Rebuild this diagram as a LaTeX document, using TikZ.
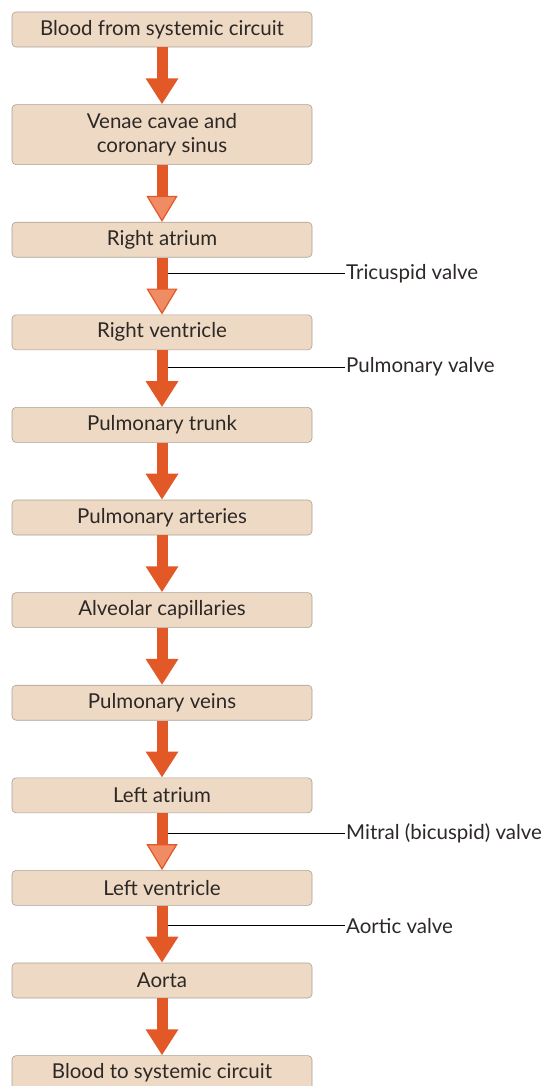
\documentclass[tikz,border=0pt]{standalone}
\usepackage{fontspec}
\setmainfont{Lato}
\usepackage{tikz}
\usetikzlibrary{positioning,arrows.meta,calc}
\definecolor{boxtan}{RGB}{238,218,196}
\definecolor{boxedge}{RGB}{170,160,150}
\definecolor{flowred}{RGB}{226,88,38}
\definecolor{flowlight}{RGB}{240,140,100}
\definecolor{inkgrey}{RGB}{45,40,38}
\tikzset{
  stagebox/.style={draw=boxedge, line width=0.6pt, rounded corners=4pt, fill=boxtan, text=inkgrey, minimum width=300pt, minimum height=35pt, align=center, inner sep=2pt, font=\fontsize{20.5}{24}\selectfont},
  flowarrow/.style={draw=flowred, line width=11pt, -{Triangle[width=31pt,length=26pt]}},
  valvearrow/.style={draw=flowred, line width=11pt, -{Triangle[width=31pt,length=26pt,line width=1.2pt,fill=flowlight]}},
  valveline/.style={draw=black, line width=0.8pt},
  valvelabel/.style={anchor=west, inner sep=1pt, text=inkgrey, font=\fontsize{20.5}{24}\selectfont}
}
\begin{document}
\begin{tikzpicture}[x=1pt, y=-1pt, node distance=57pt]
  \useasboundingbox (0,0) rectangle (550,1086);
  % stages of the circuit
  \node[stagebox] (sysin) at (162,29.5) {Blood from systemic circuit};
  \node[stagebox, minimum height=60pt, below=of sysin] (venae) {Venae cavae and\\coronary sinus};
  \node[stagebox, below=of venae] (ratrium) {Right atrium};
  \node[stagebox, below=of ratrium] (rvent) {Right ventricle};
  \node[stagebox, below=of rvent] (ptrunk) {Pulmonary trunk};
  \node[stagebox, below=of ptrunk] (parteries) {Pulmonary arteries};
  \node[stagebox, below=of parteries] (alveolar) {Alveolar capillaries};
  \node[stagebox, below=of alveolar] (pveins) {Pulmonary veins};
  \node[stagebox, below=of pveins] (latrium) {Left atrium};
  \node[stagebox, below=of latrium] (lvent) {Left ventricle};
  \node[stagebox, below=of lvent] (aorta) {Aorta};
  \node[stagebox, below=of aorta] (sysout) {Blood to systemic circuit};
  % flow
  \draw[flowarrow] (sysin) -- (venae);
  \draw[valvearrow] (venae) -- (ratrium);
  \draw[valvearrow] (ratrium) -- (rvent);
  \draw[flowarrow] (rvent) -- (ptrunk);
  \draw[flowarrow] (ptrunk) -- (parteries);
  \draw[flowarrow] (parteries) -- (alveolar);
  \draw[flowarrow] (alveolar) -- (pveins);
  \draw[flowarrow] (pveins) -- (latrium);
  \draw[valvearrow] (latrium) -- (lvent);
  \draw[flowarrow] (lvent) -- (aorta);
  \draw[flowarrow] (aorta) -- (sysout);
  % valves
  \coordinate (tricusp) at ([xshift=6pt,yshift=-16pt]ratrium.south);
  \coordinate (pulmo) at ([xshift=6pt,yshift=-17pt]rvent.south);
  \coordinate (mitral) at ([xshift=6pt,yshift=-20pt]latrium.south);
  \coordinate (aortic) at ([xshift=6pt,yshift=-20pt]lvent.south);
  \node[valvelabel] (tricusplab) at (tricusp -| 345,0) {Tricuspid valve};
  \node[valvelabel] (pulmolab) at (pulmo -| 345,0) {Pulmonary valve};
  \node[valvelabel] (mitrallab) at (mitral -| 345,0) {Mitral (bicuspid) valve};
  \node[valvelabel] (aorticlab) at (aortic -| 345,0) {Aortic valve};
  \draw[valveline] (tricusp) -- (tricusplab.west);
  \draw[valveline] (pulmo) -- (pulmolab.west);
  \draw[valveline] (mitral) -- (mitrallab.west);
  \draw[valveline] (aortic) -- (aorticlab.west);
\end{tikzpicture}
\end{document}
